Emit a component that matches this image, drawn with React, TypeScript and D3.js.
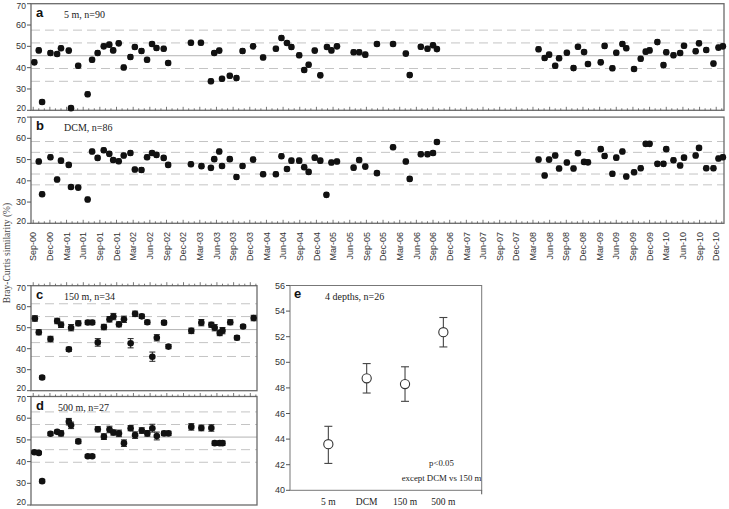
import React from 'react';
import * as d3 from 'd3';

const SANS = '"Liberation Sans", Arial, sans-serif';
const SERIF = '"Liberation Serif", "Times New Roman", serif';

// quarterly tick labels, one every 3 months starting Sep-00
const quarterLabels = [
  'Sep-00', 'Dec-00',
  'Mar-01', 'Jun-01', 'Sep-01', 'Dec-01',
  'Mar-02', 'Jun-02', 'Sep-02', 'Dec-02',
  'Mar-03', 'Jun-03', 'Sep-03', 'Dec-03',
  'Mar-04', 'Jun-04', 'Sep-04', 'Dec-04',
  'Mar-05', 'Jun-05', 'Sep-05', 'Dec-05',
  'Mar-06', 'Jun-06', 'Sep-06', 'Dec-06',
  'Mar-07', 'Jun-07', 'Sep-07', 'Dec-07',
  'Mar-08', 'Jun-08', 'Sep-08', 'Dec-08',
  'Mar-09', 'Jun-09', 'Sep-09', 'Dec-09',
  'Mar-10', 'Jun-10', 'Sep-10', 'Dec-10',
];
const simTicks = [20, 30, 40, 50, 60, 70];

// a: 5 m  (months after Sep-00, similarity %)
const aMonths = [0.2, 1.0, 1.6, 3.1, 4.3, 5.0, 6.4, 6.8, 8.1, 9.8, 10.6, 11.6, 12.7, 13.7, 14.4, 15.4, 16.3, 17.5, 18.3, 19.5, 20.5, 21.4, 22.2, 23.5, 24.3,
  28.4, 30.2, 32.0, 32.6, 33.5, 34.0, 35.4, 36.6, 37.7, 39.6, 41.4, 43.7, 44.7, 45.7, 46.5, 47.9, 48.8, 49.6, 50.7, 51.7, 52.9, 53.7, 54.7, 57.7, 58.7, 59.8,
  61.9, 64.8, 67.1, 67.8, 69.8, 71.0, 72.0, 72.7,
  91.0, 92.1, 92.9, 94.0, 94.7, 96.1, 97.3, 98.1, 99.2, 99.9, 102.2, 102.9, 104.3, 105.0, 106.1, 106.8, 108.2, 109.4, 110.3, 111.0, 112.4, 113.5, 114.0, 115.3, 116.5, 117.2, 119.3, 119.9, 121.2, 122.5, 123.4, 124.2];
const aValues = [42.5, 48.1, 23.9, 46.9, 46.4, 49.1, 48.0, 21.0, 40.9, 27.5, 43.7, 46.9, 50.0, 50.8, 48.1, 51.4, 40.1, 45.0, 49.7, 47.8, 43.7, 51.1, 49.2, 48.9, 42.2,
  51.7, 51.7, 33.6, 46.9, 48.0, 34.8, 36.2, 35.1, 47.8, 50.0, 44.8, 48.9, 53.9, 51.6, 49.7, 45.8, 38.9, 41.4, 48.0, 36.4, 49.7, 48.1, 50.0, 47.2, 47.2, 46.1,
  51.1, 51.1, 46.6, 36.5, 49.8, 48.9, 50.5, 48.7,
  48.6, 44.5, 46.1, 40.9, 44.4, 47.0, 39.8, 49.8, 47.3, 41.7, 42.5, 50.2, 39.7, 47.0, 51.1, 49.1, 39.4, 44.2, 47.5, 48.1, 52.0, 41.2, 47.2, 45.8, 46.9, 50.3, 47.7, 51.4, 48.3, 41.9, 49.4, 50.0];
const aMean = 45.6;
const aBands = [33.6, 39.6, 51.6, 57.6];

// b: DCM
const bMonths = [1.0, 1.6, 3.1, 4.3, 5.0, 6.4, 6.8, 8.1, 9.8, 10.6, 11.6, 12.7, 13.7, 14.4, 15.4, 16.3, 17.5, 18.3, 19.5, 20.5, 21.4, 22.2, 23.5, 24.3,
  28.4, 30.3, 32.0, 32.6, 33.5, 34.0, 35.4, 36.6, 37.7, 39.6, 41.4, 43.7, 44.7, 45.7, 46.5, 47.9, 48.8, 49.6, 50.7, 51.7, 52.8, 53.7, 54.7, 57.7, 58.7, 59.8,
  61.9, 64.8, 67.1, 67.8, 69.8, 71.0, 72.0, 72.7,
  91.0, 92.1, 92.9, 94.0, 94.7, 96.1, 97.3, 98.1, 99.2, 99.9, 102.2, 102.9, 104.3, 105.0, 106.1, 106.8, 108.2, 109.4, 110.3, 111.0, 112.4, 113.5, 114.0, 115.3, 116.5, 117.2, 119.3, 119.9, 121.2, 122.5, 123.4, 124.2];
const bValues = [49.1, 33.7, 51.1, 40.6, 49.5, 47.5, 37.1, 36.8, 31.2, 53.8, 50.8, 54.4, 52.7, 49.8, 49.2, 51.9, 53.1, 45.3, 45.1, 51.1, 53.1, 52.2, 50.8, 47.5,
  47.8, 46.9, 46.1, 50.2, 53.8, 47.0, 50.2, 41.8, 47.0, 50.0, 43.1, 43.1, 51.6, 45.6, 49.5, 49.5, 46.4, 44.2, 50.9, 49.5, 33.4, 48.6, 49.1, 46.2, 49.8, 46.7,
  43.6, 55.8, 49.1, 40.9, 52.5, 52.5, 53.1, 58.3,
  50.0, 42.5, 50.0, 51.9, 45.8, 48.6, 45.8, 53.0, 48.9, 48.7, 54.9, 51.7, 43.3, 50.9, 53.8, 42.0, 44.0, 45.9, 57.4, 57.4, 48.0, 48.0, 54.9, 49.7, 47.2, 50.9, 51.9, 55.5, 45.9, 45.9, 50.5, 51.1];
const bMean = 48.3;
const bBands = [38.1, 43.2, 53.4, 58.5];

// c: 150 m
const cMonths = [0.3, 1.0, 1.6, 3.1, 4.3, 5.0, 6.4, 6.8, 8.1, 9.8, 10.6, 11.6, 12.7, 13.7, 14.4, 15.4, 16.3, 17.5, 18.3, 19.5, 20.5, 21.4, 22.2, 23.5, 24.3,
  28.4, 30.2, 32.0, 32.6, 33.5, 34.0, 35.4, 36.6, 37.7, 39.6];
const cValues = [54.4, 47.8, 26.3, 44.6, 53.2, 51.4, 39.7, 50.0, 52.1, 52.5, 52.5, 43.0, 50.3, 54.0, 55.3, 51.6, 54.0, 42.6, 56.6, 55.4, 52.6, 36.2, 45.2, 52.4, 41.0,
  48.5, 52.4, 51.4, 50.0, 47.5, 48.6, 52.6, 45.2, 50.6, 54.6];
const cErrors = [1.3, 1.2, 0.8, 1.3, 1.3, 1.3, 1.0, 1.5, 1.2, 1.0, 1.0, 1.8, 1.3, 1.3, 1.5, 1.2, 1.5, 2.2, 1.3, 1.0, 1.0, 2.2, 1.5, 1.0, 1.0,
  1.3, 1.5, 1.2, 1.5, 1.3, 1.5, 1.2, 1.0, 0.8, 1.3];
const cMean = 49.1;
const cBands = [36.3, 42.9, 55.3, 61.4];

// d: 500 m
const dMonths = [0.2, 1.0, 1.6, 3.1, 4.3, 5.0, 6.4, 6.8, 8.1, 9.8, 10.6, 11.6, 12.7, 13.7, 14.4, 15.4, 16.3, 17.5, 18.3, 19.5, 20.5, 21.4, 22.2, 23.5, 24.3,
  28.4, 30.2, 32.0, 32.6, 33.5, 34.0];
const dValues = [44.3, 44.0, 31.0, 52.8, 53.7, 53.0, 58.4, 56.7, 49.3, 42.5, 42.5, 54.9, 51.5, 54.8, 53.4, 53.0, 48.5, 55.4, 52.2, 54.3, 53.0, 55.4, 51.8, 53.0, 53.0,
  56.0, 55.5, 55.5, 48.5, 48.5, 48.5];
const dErrors = [0.6, 0.6, 0.8, 0.8, 0.8, 1.2, 1.5, 1.5, 1.0, 0.7, 0.7, 1.2, 1.3, 1.5, 1.2, 1.5, 1.5, 1.2, 1.5, 1.3, 1.3, 1.8, 1.8, 1.0, 1.0,
  1.5, 1.3, 1.5, 1.0, 1.0, 1.0];
const dMean = 51.3;
const dBands = [39.7, 45.5, 57.1, 62.9];

// e: mean similarity by depth
const depthNames = ['5 m', 'DCM', '150 m', '500 m'];
const depthMeans = [43.6, 48.75, 48.3, 52.35];
const depthLow = [42.1, 47.6, 46.95, 51.2];
const depthHigh = [45.0, 49.9, 49.65, 53.5];
const depthTicks = [40, 42, 44, 46, 48, 50, 52, 54, 56];

const smallErr = 1.1; // error bars in a and b are about this size

type PanelProps = {
  months: number[];
  values: number[];
  errs?: number[];
  mean: number;
  bands: number[];
  letter: string;
  title: string;
  titleX: number;
  x0: number;
  x1: number;
  yTop: number;
  yBot: number;
  maxMonth: number;
  tickSide: 'top' | 'bottom';
};

function TimePanel(p: PanelProps) {
  const x = d3.scaleLinear().domain([-0.4, p.maxMonth]).range([p.x0, p.x1]);
  const y = d3.scaleLinear().domain([20, 70]).range([p.yBot, p.yTop]);
  const monthTicks = d3.range(0, Math.floor(p.maxMonth) + 1);
  const tickBase = p.tickSide === 'bottom' ? y(20) : y(70);
  return (
    <g>
      {p.bands.map((b, i) => (
        <line key={'b' + i} x1={p.x0} x2={p.x1} y1={y(b)} y2={y(b)}
          stroke="#c4c4c4" strokeWidth={1} strokeDasharray="9,5" />
      ))}
      <line x1={p.x0} x2={p.x1} y1={y(p.mean)} y2={y(p.mean)} stroke="#b4b4b4" strokeWidth={1} />
      <rect x={p.x0} y={y(70)} width={p.x1 - p.x0} height={y(20) - y(70)}
        fill="none" stroke="#6a6a6a" strokeWidth={1.3} />
      {simTicks.map(t => (
        <g key={'t' + t}>
          <line x1={p.x0 - 4} x2={p.x0} y1={y(t)} y2={y(t)} stroke="#555" />
          <text x={p.x0 - 5} y={y(t)} dy={t === 20 ? '0.05em' : t === 70 ? '0.65em' : '0.35em'} textAnchor="end"
            fontFamily={SANS} fontSize={t === 20 || t === 70 ? 8.5 : 9} fill="#333">{t}</text>
        </g>
      ))}
      {monthTicks.map(m => (
        <line key={'m' + m} x1={x(m)} x2={x(m)} y1={tickBase}
          y2={tickBase - (m % 3 === 0 ? 3.5 : 2)} stroke="#555" strokeWidth={0.8} />
      ))}
      {p.values.map((v, i) => {
        const e = p.errs ? p.errs[i] : smallErr;
        const cx = x(p.months[i]);
        const w = p.errs ? 3 : 2.3;
        return (
          <g key={'p' + i}>
            <line x1={cx} x2={cx} y1={y(v - e)} y2={y(v + e)} stroke="#222" strokeWidth={1} />
            <line x1={cx - w} x2={cx + w} y1={y(v - e)} y2={y(v - e)} stroke="#222" strokeWidth={1} />
            <line x1={cx - w} x2={cx + w} y1={y(v + e)} y2={y(v + e)} stroke="#222" strokeWidth={1} />
            <circle cx={cx} cy={y(v)} r={3.3} fill="#111" />
          </g>
        );
      })}
      <text x={p.x0 + 5} y={y(70) + 13} fontFamily={SANS} fontWeight="bold" fontSize={13} fill="#111">{p.letter}</text>
      <text x={p.titleX} y={y(70) + 14} fontFamily={SERIF} fontSize={10} fill="#222">{p.title}</text>
    </g>
  );
}

function DepthPanel() {
  const x0 = 290, x1 = 481.7, yTop = 285.5, yBot = 490.3;
  const x = d3.scaleLinear().domain([0, 5]).range([x0, x1]);
  const y = d3.scaleLinear().domain([40, 56]).range([yBot, yTop]);
  return (
    <g>
      <rect x={x0} y={yTop} width={x1 - x0} height={yBot - yTop} fill="none" stroke="#777" strokeWidth={1} />
      <line x1={x1} x2={x1} y1={yBot} y2={yBot + 4} stroke="#555" />
      {depthTicks.map(t => (
        <g key={t}>
          <line x1={x0 - 4} x2={x0} y1={y(t)} y2={y(t)} stroke="#555" />
          <text x={x0 - 5} y={y(t)} dy="0.35em" textAnchor="end" fontFamily={SANS} fontSize={9} fill="#333">{t}</text>
        </g>
      ))}
      {depthMeans.map((m, i) => {
        const cx = x(i + 1);
        return (
          <g key={i}>
            <line x1={cx} x2={cx} y1={y(depthLow[i])} y2={y(depthHigh[i])} stroke="#444" strokeWidth={1.1} />
            <line x1={cx - 4} x2={cx + 4} y1={y(depthLow[i])} y2={y(depthLow[i])} stroke="#444" strokeWidth={1.1} />
            <line x1={cx - 4} x2={cx + 4} y1={y(depthHigh[i])} y2={y(depthHigh[i])} stroke="#444" strokeWidth={1.1} />
            <circle cx={cx} cy={y(m)} r={4.6} fill="#fff" stroke="#333" strokeWidth={1.1} />
            <text x={cx} y={yBot + 15} textAnchor="middle" fontFamily={SERIF} fontSize={9.5} fill="#222">{depthNames[i]}</text>
          </g>
        );
      })}
      <text x={x0 + 4} y={yTop + 12} fontFamily={SANS} fontWeight="bold" fontSize={13} fill="#111">e</text>
      <text x={325} y={yTop + 14} fontFamily={SERIF} fontSize={10} fill="#222">4 depths, n=26</text>
      <text x={441.5} y={465.5} textAnchor="middle" fontFamily={SERIF} fontSize={8.8} fill="#222">p&lt;0.05</text>
      <text x={441.5} y={480.5} textAnchor="middle" fontFamily={SERIF} fontSize={8.8} fill="#222">except DCM vs 150 m</text>
    </g>
  );
}

export default function App() {
  const xAB = d3.scaleLinear().domain([-0.4, 124.4]).range([31, 724]);
  return (
    <svg width={729} height={509} style={{ position: 'absolute', left: 0, top: 0, background: '#fff' }}>
      <rect width={729} height={509} fill="#fff" />
      <TimePanel months={aMonths} values={aValues} mean={aMean} bands={aBands}
        letter="a" title="5 m, n=90" titleX={64} x0={31} x1={724} yTop={3.7} yBot={110.3}
        maxMonth={124.4} tickSide="bottom" />
      <TimePanel months={bMonths} values={bValues} mean={bMean} bands={bBands}
        letter="b" title="DCM, n=86" titleX={64} x0={31} x1={724} yTop={117.1} yBot={223.3}
        maxMonth={124.4} tickSide="bottom" />
      {quarterLabels.map((l, i) => (
        <text key={l} transform={`translate(${xAB(i * 3)},232) rotate(-90)`} dy="0.35em"
          textAnchor="end" fontFamily={SANS} fontSize={9} fill="#333">{l}</text>
      ))}
      <TimePanel months={cMonths} values={cValues} errs={cErrors} mean={cMean} bands={cBands}
        letter="c" title="150 m, n=34" titleX={64} x0={31} x1={257} yTop={285.7} yBot={390.7}
        maxMonth={40.2} tickSide="top" />
      <TimePanel months={dMonths} values={dValues} errs={dErrors} mean={dMean} bands={dBands}
        letter="d" title="500 m, n=27" titleX={58} x0={31} x1={257} yTop={396.5} yBot={505}
        maxMonth={40.2} tickSide="top" />
      <DepthPanel />
      <text transform="translate(7,253) rotate(-90)" dy="0.35em" textAnchor="middle"
        fontFamily={SERIF} fontSize={9.5} fill="#444">Bray-Curtis similarity (%)</text>
    </svg>
  );
}
